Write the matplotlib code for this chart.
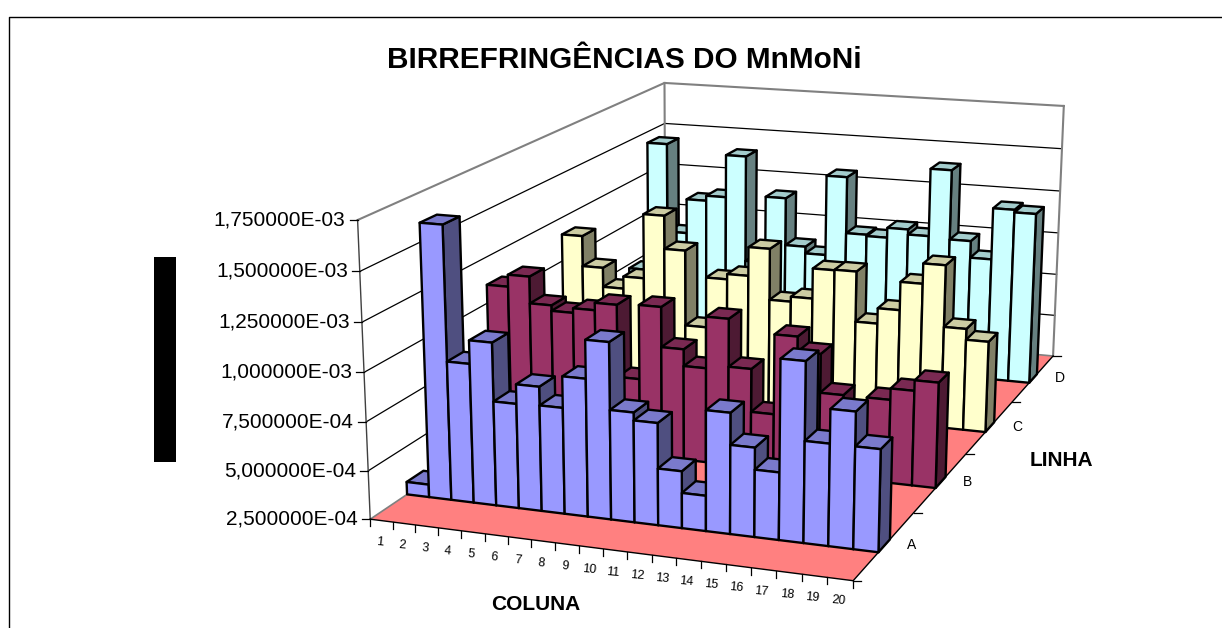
import matplotlib
matplotlib.use('Agg')
import matplotlib.pyplot as plt
import numpy as np
from matplotlib.patches import Polygon, Rectangle

plt.rcParams['font.family'] = ['Liberation Sans', 'DejaVu Sans']

title = 'BIRREFRINGÊNCIAS DO MnMoNi'
columns = [str(i) for i in range(1, 21)]
rows = ['A', 'B', 'C', 'D']
value_ticks = [2.5e-4, 5e-4, 7.5e-4, 1e-3, 1.25e-3, 1.5e-3, 1.75e-3]
value_labels = ['2,500000E-04', '5,000000E-04', '7,500000E-04', '1,000000E-03',
                '1,250000E-03', '1,500000E-03', '1,750000E-03']

# birefringence per column, one list per row (hidden bars are a guess)
row_a = [3.16e-4, 1.66e-3, 9.7e-4, 1.09e-3, 7.9e-4, 8.9e-4, 7.95e-4, 9.55e-4, 1.15e-3, 8.1e-4,
         7.7e-4, 5.4e-4, 4.3e-4, 8.6e-4, 7.0e-4, 5.9e-4, 1.15e-3, 7.6e-4, 9.3e-4, 7.6e-4]
row_b = [1.10e-3, 1.165e-3, 1.02e-3, 9.9e-4, 1.015e-3, 1.055e-3, 6.65e-4, 1.065e-3, 8.5e-4, 7.6e-4,
         1.035e-3, 7.8e-4, 5.5e-4, 9.75e-4, 8.95e-4, 6.9e-4, 5.57e-4, 6.9e-4, 7.5e-4, 8.05e-4]
row_c = [1.153e-3, 9.8e-4, 8.7e-4, 9.4e-4, 1.306e-3, 1.118e-3, 6.9e-4, 9.75e-4, 1.005e-3, 1.167e-3,
         8.8e-4, 9.08e-4, 1.077e-3, 1.08e-3, 8.0e-4, 8.86e-4, 1.043e-3, 1.155e-3, 8.15e-4, 7.55e-4]
row_d = [7.25e-4, 1.498e-3, 9.7e-4, 1.175e-3, 1.205e-3, 1.456e-3, 8.3e-4, 1.225e-3, 9.45e-4, 9.05e-4,
         1.375e-3, 1.045e-3, 1.037e-3, 1.095e-3, 1.065e-3, 1.457e-3, 1.055e-3, 9.58e-4, 1.255e-3, 1.24e-3]
series = [row_a, row_b, row_c, row_d]

# front, side, top
colors = [('#9999FF', '#4F4F80', '#7A7ACC'),
          ('#993366', '#4D1A33', '#7A2952'),
          ('#FFFFCC', '#808066', '#CCCCA3'),
          ('#CCFFFF', '#668080', '#A3CCCC')]

vmin, vmax = value_ticks[0], value_ticks[-1]
ncol, nrow = len(columns), len(rows)

# box corners as seen in the picture, used to fit the perspective
box = [((0, 0, 0), (370, 518)), ((1, 0, 0), (853, 582)), ((1, 1, 0), (1053, 354)),
       ((0, 1, 0), (666, 322)), ((0, 0, 1), (358, 220)), ((0, 1, 1), (664, 82)),
       ((1, 1, 1), (1064, 107))]
eqs = []
for (a, b, c), (u, v) in box:
    eqs.append([a, b, c, 1, 0, 0, 0, 0, -u * a, -u * b, -u * c, -u])
    eqs.append([0, 0, 0, 0, a, b, c, 1, -v * a, -v * b, -v * c, -v])
P = np.linalg.svd(np.array(eqs, dtype=float))[2][-1].reshape(3, 4)


def proj(col, row, val):
    """column and row in chart units, val in data units -> picture pixels"""
    p = P @ np.array([col / ncol, row / nrow, (val - vmin) / (vmax - vmin), 1.0])
    return p[0] / p[2], p[1] / p[2]


fig = plt.figure(figsize=(12.22, 6.28), dpi=100)
ax = fig.add_axes([0, 0, 1, 1])
ax.set_xlim(0, 1222)
ax.set_ylim(628, 0)
ax.axis('off')

# chart border
ax.plot([9.3, 9.3, 1222], [628, 16.5, 16.5], color='black', lw=1.0)
ax.add_patch(Rectangle((154, 257), 22, 205, color='black', lw=0))

# floor
ax.add_patch(Polygon([proj(0, 0, vmin), proj(ncol, 0, vmin), proj(ncol, nrow, vmin), proj(0, nrow, vmin)],
                     facecolor='#FF8080', edgecolor='none', zorder=1))

# walls
for v in value_ticks:
    c = '#808080' if v == vmax else 'black'
    w = 1.5 if v == vmax else 0.9
    if v == vmin:
        continue
    ax.plot(*zip(proj(0, 0, v), proj(0, nrow, v), proj(ncol, nrow, v)), color=c, lw=w, zorder=1)
ax.plot(*zip(proj(0, 0, vmin), proj(0, nrow, vmin), proj(ncol, nrow, vmin)), color='#808080', lw=1.2, zorder=1)
ax.plot(*zip(proj(0, nrow, vmin), proj(0, nrow, vmax)), color='#808080', lw=1.5, zorder=1)
ax.plot(*zip(proj(ncol, nrow, vmin), proj(ncol, nrow, vmax)), color='#808080', lw=1.5, zorder=1)
ax.plot(*zip(proj(0, 0, vmin), proj(0, 0, vmax)), color='#404040', lw=1.0, zorder=2)
ax.plot(*zip(proj(0, 0, vmin), proj(ncol, 0, vmin), proj(ncol, nrow, vmin)), color='black', lw=1.0, zorder=2)

# value axis
for v, lab in zip(value_ticks, value_labels):
    x, y = proj(0, 0, v)
    ax.plot([x - 8, x], [y, y], color='black', lw=0.9, zorder=2)
    ax.text(x - 12, y, lab, ha='right', va='center', fontsize=15)

# column axis
for i in range(ncol + 1):
    x, y = proj(i, 0, vmin)
    ax.plot([x, x], [y, y + 7], color='black', lw=0.9, zorder=2)
for i, lab in enumerate(columns):
    x, y = proj(i + 0.5, 0, vmin)
    ax.text(x - 2, y + 22, lab, ha='center', va='center', fontsize=9, rotation=-5)

# row axis
for i in range(nrow + 1):
    x, y = proj(ncol, i, vmin)
    ax.plot([x, x + 8], [y, y], color='black', lw=0.9, zorder=2)
for i, lab in enumerate(rows):
    x, y = proj(ncol, i + 0.5, vmin)
    ax.text(x + 27, y, lab, ha='center', va='center', fontsize=10)

# bars, back row first, left to right
y0, y1 = 0.40, 0.59
z = 3
for r in range(nrow - 1, -1, -1):
    front, side, top = colors[r]
    for i, val in enumerate(series[r]):
        a = proj(i, r + y0, vmin)
        b = proj(i + 1, r + y0, vmin)
        c = proj(i + 1, r + y0, val)
        d = proj(i, r + y0, val)
        e = proj(i + 1, r + y1, vmin)
        f = proj(i + 1, r + y1, val)
        g = proj(i, r + y1, val)
        for pts, col in (([b, e, f, c], side), ([d, c, f, g], top), ([a, b, c, d], front)):
            ax.add_patch(Polygon(pts, facecolor=col, edgecolor='black', lw=1.7, joinstyle='round', zorder=z))
        z += 1

ax.text(624, 60.5, title, ha='center', va='center', fontsize=21.4, fontweight='bold')
ax.text(536, 604, 'COLUNA', ha='center', va='center', fontsize=15, fontweight='bold')
ax.text(1061, 461, 'LINHA', ha='center', va='center', fontsize=15, fontweight='bold')

fig.savefig('out.png', dpi=100)
